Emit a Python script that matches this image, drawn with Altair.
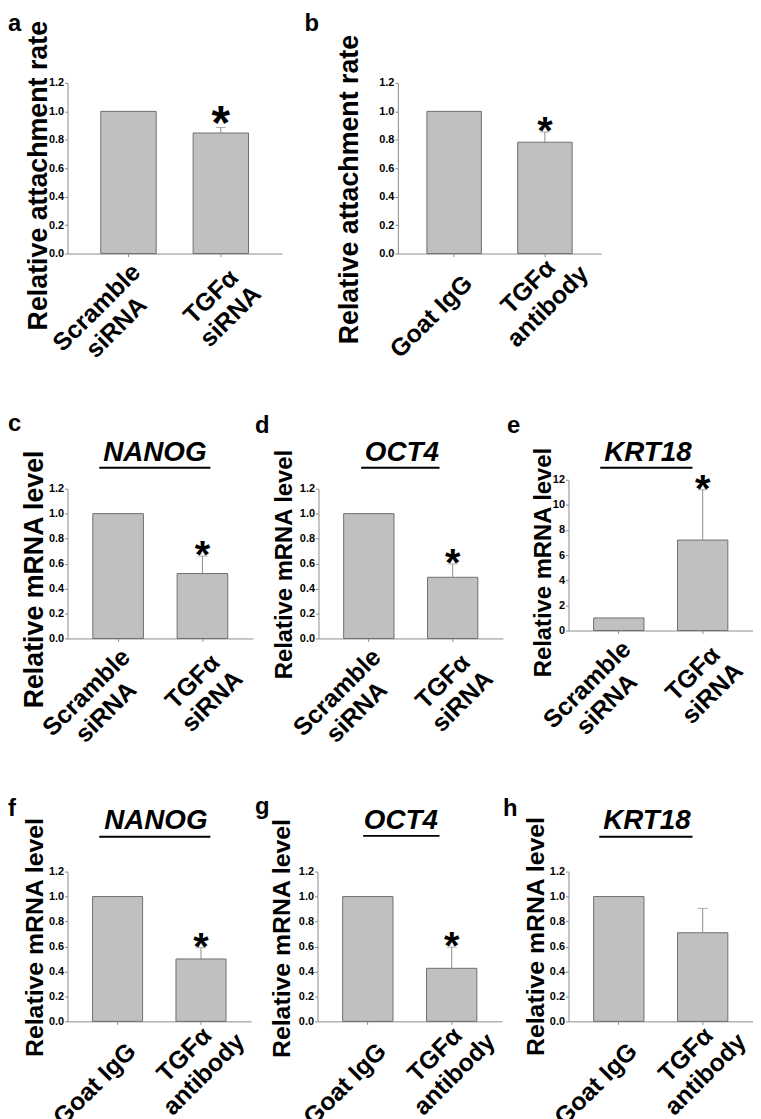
import altair as alt
import pandas as pd

FONT = "Liberation Sans"
BAR_FILL = "#c0c0c0"
BAR_STROKE = "#6e6e6e"
AXIS_COLOR = "#8c8c8c"

# ---------------- data ----------------
sirna_conditions = ["Scramble|siRNA", "TGFα|siRNA"]
antibody_conditions = ["Goat IgG", "TGFα|antibody"]

a_values = [1.0, 0.848]
a_err_top = [1.0, 0.887]
a_marks = ["", "*"]

b_values = [1.0, 0.783]
b_err_top = [1.0, 0.855]
b_marks = ["", "*"]

c_values = [1.0, 0.52]
c_err_top = [1.0, 0.66]
c_marks = ["", "*"]

d_values = [1.0, 0.49]
d_err_top = [1.0, 0.597]
d_marks = ["", "*"]

e_values = [1.0, 7.2]
e_err_top = [1.0, 11.2]
e_marks = ["", "*"]

f_values = [1.0, 0.50]
f_err_top = [1.0, 0.59]
f_marks = ["", "*"]

g_values = [1.0, 0.425]
g_err_top = [1.0, 0.595]
g_marks = ["", "*"]

h_values = [1.0, 0.71]
h_err_top = [1.0, 0.905]
h_marks = ["", ""]

rate_ticks = [0.0, 0.2, 0.4, 0.6, 0.8, 1.0, 1.2]
krt_ticks = [0, 2, 4, 6, 8, 10, 12]

title_attach = "Relative attachment rate"
title_mrna = "Relative mRNA level"

# per-label placement of the rotated category labels (style only)
LBL_TGF_AB = "datum.value == 'TGFα|antibody'"
LBL_TGF_SI = "datum.value == 'TGFα|siRNA'"
LBL_GOAT = "datum.value == 'Goat IgG'"


def panel(letter, gene, cats, vals, errs, marks, ticks, fmt, ytitle, L):
    df = pd.DataFrame({"cond": cats, "value": vals, "err": errs, "star": marks})
    base = alt.Chart(df)

    xscale = alt.Scale(paddingInner=0.4, paddingOuter=L.get("po", 0.3))
    xaxis = alt.Axis(
        labelExpr="split(datum.label, '|')",
        labelAngle=-45, labelAlign="center", labelBaseline="middle",
        labelFont=FONT, labelFontSize=25, labelFontWeight="bold",
        labelLineHeight=28, labelColor="black",
        labelPadding=alt.ConditionalAxisNumber(
            condition=[{"test": LBL_TGF_AB, "value": 30},
                       {"test": LBL_TGF_SI, "value": 40},
                       {"test": LBL_GOAT, "value": 60}],
            value=51),
        labelOffset=alt.ConditionalAxisNumber(
            condition=[{"test": LBL_TGF_AB, "value": -17},
                       {"test": LBL_TGF_SI, "value": -10},
                       {"test": LBL_GOAT, "value": -23}],
            value=-32),
        labelBound=False, labelOverlap=False, labelFlush=False,
        domainColor=AXIS_COLOR, tickColor=AXIS_COLOR, tickSize=3,
    )
    if "yrange" in L:
        yscale = alt.Scale(domain=[ticks[0], ticks[-1]], range=L["yrange"], nice=False, zero=True)
    else:
        yscale = alt.Scale(domain=[ticks[0], ticks[-1]], nice=False, zero=True)
    yaxis = alt.Axis(
        values=ticks, format=fmt, title=ytitle,
        titleFont=FONT, titleFontSize=L["tsize"], titleFontWeight="bold",
        titleColor="black", titleX=L["tx"], titleY=L["ty"],
        titleBaseline="alphabetic", titleAngle=270,
        labelFont=FONT, labelFontSize=11, labelFontWeight="bold", labelColor="black",
        labelPadding=1, tickSize=3,
        domainColor=AXIS_COLOR, tickColor=AXIS_COLOR,
    )

    def X():
        return alt.X("cond:N", sort=cats, scale=xscale, axis=xaxis, title=None)

    def Y(field):
        return alt.Y(field, scale=yscale, axis=yaxis)

    bars = base.mark_bar(fill=BAR_FILL, stroke=BAR_STROKE, strokeWidth=1).encode(
        x=X(), y=Y("value:Q"))
    treated = base.transform_filter("datum.err > datum.value")
    ebar = treated.mark_rule(color=AXIS_COLOR, strokeWidth=1).encode(
        x=X(), y=Y("value:Q"), y2=alt.Y2("err:Q"))
    cap = treated.mark_tick(color=AXIS_COLOR, thickness=1, size=10).encode(
        x=X(), y=Y("err:Q"))
    star = base.transform_filter("datum.star != ''").mark_text(
        font=FONT, fontSize=L.get("ssize", 40), fontWeight="bold", baseline="alphabetic",
        dy=12, color="black").encode(x=X(), y=Y("err:Q"), text="star:N")

    lab = alt.Chart(pd.DataFrame({"letter": [letter]})).mark_text(
        font=FONT, fontSize=24, fontWeight="bold", align="left",
        baseline="alphabetic", color="black").encode(
        text="letter:N", x=alt.value(L["lx"]), y=alt.value(L["ly"]))

    layers = [bars, ebar, cap, star, lab]
    if gene:
        gdf = pd.DataFrame({"gene": [gene]})
        gtxt = alt.Chart(gdf).mark_text(
            font=FONT, fontSize=28, fontStyle="italic", fontWeight="bold",
            align="center", baseline="alphabetic", color="black").encode(
            text="gene:N", x=alt.value(L["gx"]), y=alt.value(L["gy"]))
        ul = alt.Chart(gdf).mark_rule(color="black", strokeWidth=2).encode(
            x=alt.value(L["u1"]), x2=alt.value(L["u2"]), y=alt.value(L["uy"]))
        layers += [gtxt, ul]
    return alt.layer(*layers).properties(width=L["w"], height=L["h"])


pa = panel("a", None, sirna_conditions, a_values, a_err_top, a_marks, rate_ticks, ".1f", title_attach,
           dict(w=216, h=172, po=0.36, tx=-21, ty=93, tsize=27, lx=-60, ly=-52, ssize=48))
pb = panel("b", None, antibody_conditions, b_values, b_err_top, b_marks, rate_ticks, ".1f", title_attach,
           dict(w=205, h=172, po=0.32, tx=-41, ty=107, tsize=27, lx=-94, ly=-52))

pc = panel("c", "NANOG", sirna_conditions, c_values, c_err_top, c_marks, rate_ticks, ".1f", title_mrna,
           dict(w=187, h=160, yrange=[160, 9], tx=-25, ty=100, tsize=27, lx=-60, ly=-49,
                gx=88, gy=-19, u1=32, u2=144, uy=-12))
pd_ = panel("d", "OCT4", sirna_conditions, d_values, d_err_top, d_marks, rate_ticks, ".1f", title_mrna,
            dict(w=186, h=160, yrange=[160, 9], tx=-27, ty=85, tsize=24, lx=-64, ly=-47,
                 gx=84, gy=-19, u1=43, u2=122, uy=-12))
pe = panel("e", "KRT18", sirna_conditions, e_values, e_err_top, e_marks, krt_ticks, "d", title_mrna,
           dict(w=186, h=152, tx=-18, ty=83, tsize=24, lx=-62, ly=-47,
                gx=80, gy=-19, u1=32, u2=125, uy=-12))

pf = panel("f", "NANOG", antibody_conditions, f_values, f_err_top, f_marks, rate_ticks, ".1f", title_mrna,
           dict(w=185, h=151, tx=-25, ty=66, tsize=25, lx=-60, ly=-56,
                gx=89, gy=-43, u1=32, u2=144, uy=-35))
pg = panel("g", "OCT4", antibody_conditions, g_values, g_err_top, g_marks, rate_ticks, ".1f", title_mrna,
           dict(w=186, h=151, tx=-28, ty=67, tsize=25, lx=-63, ly=-58,
                gx=84, gy=-43, u1=46, u2=123, uy=-36))
ph = panel("h", "KRT18", antibody_conditions, h_values, h_err_top, h_marks, rate_ticks, ".1f", title_mrna,
           dict(w=186, h=151, tx=-25, ty=65, tsize=25, lx=-66, ly=-56,
                gx=79, gy=-43, u1=31, u2=125, uy=-35))

row1 = alt.hconcat(pa, pb, spacing=117, bounds="flush")
row2 = alt.hconcat(pc, pd_, pe, spacing=66, bounds="flush")
row3 = alt.hconcat(pf, pg, ph, spacing=67, bounds="flush")

top_rows = alt.vconcat(row1, row2, spacing=37)
chart = alt.vconcat(top_rows, row3, spacing=35).properties(
    padding=0
).configure_view(stroke=None).configure_axis(grid=False)

chart.save("out.html", embed_options={"renderer": "svg", "actions": False})
